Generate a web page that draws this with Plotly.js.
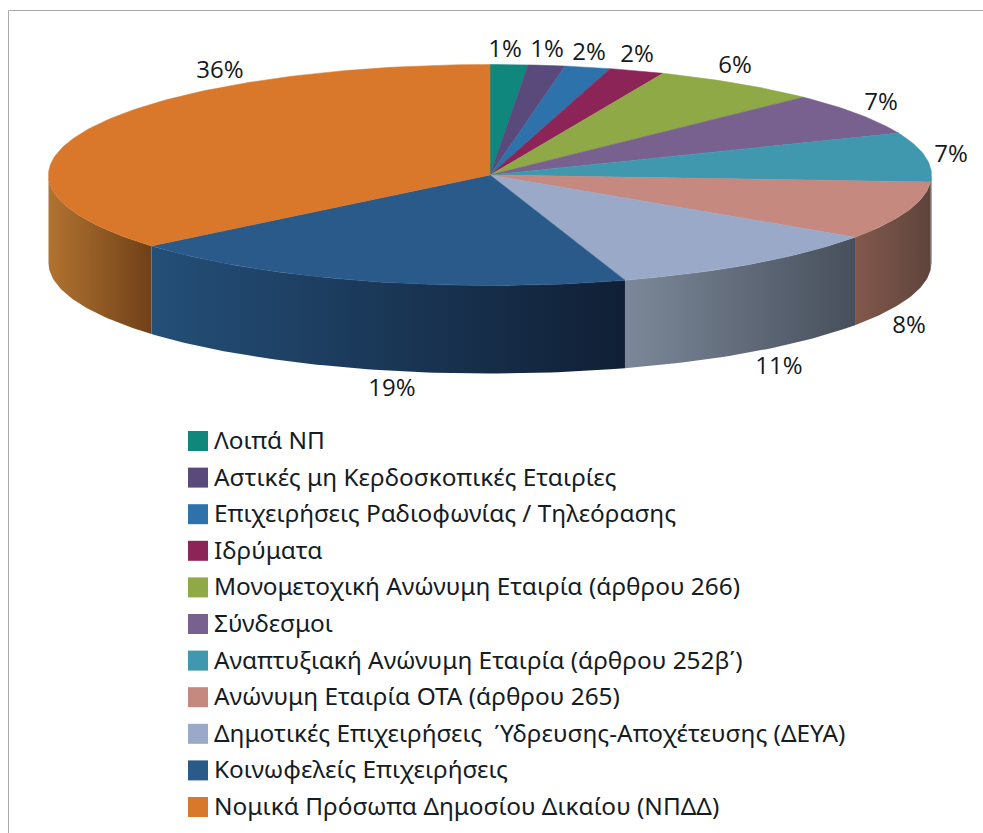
<!DOCTYPE html>
<html>
<head>
<meta charset="utf-8">
<script src="https://cdn.plot.ly/plotly-3.0.1.min.js"></script>
<style>html,body{margin:0;padding:0;background:#fff}#chart{width:983px;height:833px}</style>
</head>
<body>
<div id="chart"></div>
<script>
// ---- data ----
const categories = ["Λοιπά ΝΠ","Αστικές μη Κερδοσκοπικές Εταιρίες","Επιχειρήσεις Ραδιοφωνίας / Τηλεόρασης","Ιδρύματα","Μονομετοχική Ανώνυμη Εταιρία (άρθρου 266)","Σύνδεσμοι","Αναπτυξιακή Ανώνυμη Εταιρία (άρθρου 252β΄)","Ανώνυμη Εταιρία ΟΤΑ (άρθρου 265)","Δημοτικές Επιχειρήσεις  Ύδρευσης-Αποχέτευσης (ΔΕΥΑ)","Κοινωφελείς Επιχειρήσεις","Νομικά Πρόσωπα Δημοσίου Δικαίου (ΝΠΔΔ)"];
const values = [1.37,1.35,1.67,2.02,6.15,6.25,7.2,8.5,10.55,18.85,36.1];
const percentLabels = ["1%","1%","2%","2%","6%","7%","7%","8%","11%","19%","36%"];
const colors = ["#0f877c","#5a4a7c","#2d72ab","#8c2458","#8fa946","#78608f","#4098ae","#c58980","#9aa9c7","#2a5a8a","#d9782b"];
const wallLeft = ["#0a5a52","#3c3154","#1e4c72","#5e183a","#5f712e","#504060","#2b6574","#83584c","#7c8899","#244f78","#b27331"];
const wallRight = ["#0a5a52","#3c3154","#1e4c72","#5e183a","#5f712e","#504060","#2b6574","#5e443c","#474f5c","#101f35","#6f4018"];

// ---- geometry of the drawing ----
const W = 983, H = 833;
const cx = 490, cy = 175, rx = 441.5, ry = 110.5, depth = 88;
const labelX = [505,547,589,637,735,881,951,909,779,392,220];
const labelY = [51,51,54,56,67,104,156,327,368,390,72];
const legendTop = 441, legendStep = 36.6, legendSwatchX = 198, legendTextX = 214;
const legendFont = '"Noto Sans", sans-serif', pctFont = '"Open Sans", sans-serif';

const px = a => cx + rx * Math.sin(a * Math.PI / 180);
const py = a => cy - ry * Math.cos(a * Math.PI / 180);
function arc(a0, a1, dy) {
  const n = Math.max(2, Math.ceil(Math.abs(a1 - a0)));
  const xs = [], ys = [];
  for (let i = 0; i <= n; i++) {
    const a = a0 + (a1 - a0) * i / n;
    xs.push(px(a)); ys.push(py(a) + dy);
  }
  return [xs, ys];
}

const total = values.reduce((s, v) => s + v, 0);
let acc = 0;
const walls = [], tops = [];
values.forEach((v, i) => {
  const a0 = acc / total * 360; acc += v;
  const a1 = acc / total * 360;
  const [tx, ty] = arc(a0, a1, 0);
  tops.push({
    type: "scatter", mode: "lines", name: categories[i], showlegend: false,
    x: [cx, ...tx, cx], y: [cy, ...ty, cy], fill: "toself", fillcolor: colors[i],
    line: {color: colors[i], width: 0.5}, hoverinfo: "name"
  });
  const w0 = Math.max(a0, 90), w1 = Math.min(a1, 270);
  if (w1 > w0) {
    const [ux, uy] = arc(w0, w1, 0);
    const [lx, ly] = arc(w1, w0, depth);
    walls.push({
      type: "scatter", mode: "lines", name: categories[i], showlegend: false,
      x: [...ux, ...lx, ux[0]], y: [...uy, ...ly, uy[0]], fill: "toself",
      fillgradient: {type: "horizontal", colorscale: [[0, wallLeft[i]], [1, wallRight[i]]]},
      line: {color: "rgba(0,0,0,0)", width: 0}, hoverinfo: "name"
    });
  }
});

const pct = {
  type: "scatter", mode: "text", x: labelX, y: labelY, text: percentLabels,
  textposition: "middle center", showlegend: false, hoverinfo: "skip",
  textfont: {family: pctFont, size: 24, color: "#14191d"}
};
const rowY = categories.map((c, i) => legendTop + i * legendStep);
const legendSwatches = {
  type: "scatter", mode: "markers", showlegend: false, hoverinfo: "skip",
  x: categories.map(() => legendSwatchX), y: rowY,
  marker: {symbol: "square", size: 20, color: colors, line: {width: 0}}
};
const legendLabels = {
  type: "scatter", mode: "text", showlegend: false, hoverinfo: "skip",
  x: categories.map(() => legendTextX), y: rowY.map(y => y + 2),
  text: categories, textposition: "middle right",
  textfont: {family: legendFont, size: 24.4, color: "#141c24"}
};

const axis = {visible: false, fixedrange: true, showgrid: false, zeroline: false};
Plotly.newPlot("chart", [...walls, ...tops, pct, legendSwatches, legendLabels], {
  width: W, height: H,
  margin: {l: 0, r: 0, t: 0, b: 0},
  paper_bgcolor: "#fff", plot_bgcolor: "#fff",
  xaxis: {...axis, range: [0, W]},
  yaxis: {...axis, range: [H, 0]},
  showlegend: false,
  shapes: [
    {type: "line", x0: 8.5, x1: W, y0: 10.5, y1: 10.5, line: {color: "#aaaaaa", width: 1}},
    {type: "line", x0: 8.5, x1: 8.5, y0: 10.5, y1: H, line: {color: "#aaaaaa", width: 1}}
  ]
}, {displayModeBar: false});
</script>
</body>
</html>
